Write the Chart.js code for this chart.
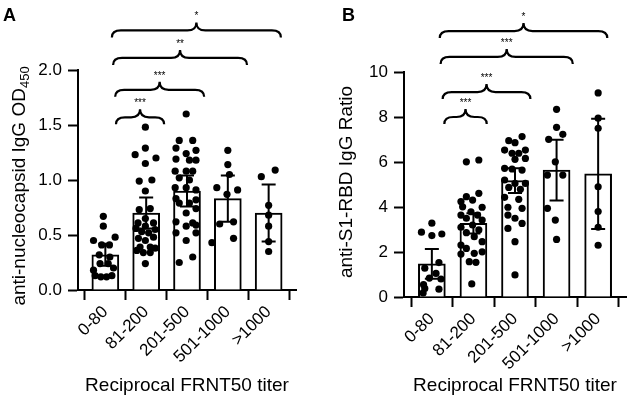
<!DOCTYPE html>
<html><head><meta charset="utf-8">
<script src="https://cdn.jsdelivr.net/npm/chart.js@4"></script>
<style>
html,body{margin:0;background:#fff;}
#wrap{position:relative;width:630px;height:407px;overflow:hidden;}
canvas{position:absolute;top:0;}
#cA{left:0} #cB{left:315px}
</style></head><body>
<div id="wrap"><canvas id="cA" width="315" height="407"></canvas><canvas id="cB" width="315" height="407"></canvas></div>
<script>
const FONT = '"Liberation Sans", Arial, Helvetica, sans-serif';
const groups = ['0-80','81-200','201-500','501-1000','>1000'];

// panel A - anti-nucleocapsid IgG OD450 (bar = mean, whisker = 95% CI)
const meanA = [0.32, 0.70, 0.90, 0.83, 0.70];
const ciA   = [0.10, 0.14, 0.14, 0.21, 0.26];
const ptsA = [
  [0.67,0.58,0.45,0.48,0.41,0.41,0.32,0.30,0.24,0.24,0.18,0.20,0.13,0.12,0.12,0.13],
  [1.48,1.29,1.23,1.20,1.15,0.99,1.00,0.90,0.73,0.74,0.65,0.61,0.61,0.58,0.56,0.55,0.53,0.52,0.47,0.48,0.45,0.39,0.39,0.36,0.38,0.34,0.34,0.24],
  [1.60,1.36,1.36,1.29,1.27,1.24,1.19,1.18,1.18,1.08,1.08,1.08,1.02,1.00,0.93,0.93,0.91,0.83,0.82,0.79,0.79,0.74,0.70,0.62,0.61,0.58,0.59,0.52,0.52,0.45,0.25,0.30],
  [1.27,1.14,1.05,0.93,0.91,0.87,0.60,0.62,0.43,0.47],
  [1.09,1.03,0.77,0.68,0.58,0.44,0.35]
];
// horizontal scatter of each dot inside its column
const jitA = [
  [-0.05,-0.05,-0.29,0.24,-0.09,0.10,-0.15,0.11,-0.13,0.07,-0.29,0.20,-0.25,-0.11,0.03,0.16],
  [-0.02,-0.02,-0.27,0.24,-0.02,-0.17,0.14,-0.02,-0.17,0.10,-0.02,-0.20,0.18,-0.02,-0.25,0.22,-0.11,0.06,-0.19,0.18,-0.02,-0.15,0.10,-0.23,0.22,-0.07,0.10,-0.02],
  [-0.02,-0.19,0.14,-0.27,0.22,-0.02,-0.27,0.06,0.22,-0.29,-0.02,0.14,-0.19,0.06,-0.29,-0.02,0.22,-0.27,0.22,-0.19,0.06,0.22,-0.02,-0.27,0.14,-0.02,0.22,-0.27,0.22,-0.02,-0.19,0.14],
  [0,0,0.04,-0.27,0.24,-0.02,-0.20,0.14,-0.39,0.14],
  [0.16,-0.18,0,0,0,0,0]
];
const brFromA  = [0.26, 0.24, 0.19, 0.16];
const brToA    = [1.44, 2.42, 3.47, 4.30];
const brLevelA = [1.57, 1.82, 2.11, 2.36];
const brStarsA = ['***','***','**','*'];

// panel B - anti-S1-RBD IgG ratio
const meanB = [1.47, 3.27, 5.17, 5.64, 5.47];
const ciB   = [0.66, 0.45, 0.55, 1.35, 2.45];
const ptsB = [
  [3.28,2.88,2.80,2.73,1.53,1.28,1.05,0.84,0.80,0.55,0.38,0.35,0.18],
  [6.01,6.09,4.61,4.46,4.24,4.31,4.01,3.99,3.79,3.64,3.64,3.50,3.42,3.20,3.10,2.98,2.86,2.68,2.46,2.31,2.16,2.01,1.94,1.91,1.57,1.54,0.58],
  [7.13,6.95,6.86,6.53,6.53,6.39,6.39,6.12,6.16,5.72,5.69,5.64,5.20,5.05,5.05,4.87,4.79,4.43,4.34,3.99,3.94,3.64,3.50,3.27,3.05,2.46,0.98],
  [8.34,7.54,7.23,7.01,6.01,5.42,5.42,3.94,3.42,2.56],
  [9.07,7.95,7.50,4.90,3.80,3.10,2.30]
];
const jitB = [
  [0,-0.25,0.24,0,0.17,-0.17,0.10,-0.06,0.22,-0.20,-0.17,0.17,-0.21],
  [-0.17,0.13,0.13,-0.17,-0.30,-0.02,-0.26,0.21,-0.06,0.10,-0.30,-0.17,0.21,-0.02,-0.30,0.13,-0.17,0.02,0.21,-0.30,-0.17,0.21,0.02,-0.30,-0.10,0.06,-0.04],
  [0.17,-0.15,0,-0.25,0.25,-0.07,0.09,0,0.25,-0.25,-0.07,0.17,-0.25,0,0.25,-0.15,0.13,-0.25,0.09,-0.17,0.17,-0.17,0,0.17,-0.17,0,0],
  [0,0,0.15,-0.19,-0.03,-0.22,0.15,-0.22,-0.03,0],
  [0,0,0,0,0,0,0]
];
const brFromB  = [0.30, 0.26, 0.21, 0.19];
const brToB    = [1.32, 2.37, 3.39, 4.22];
const brLevelB = [8.0, 9.11, 10.67, 11.82];
const brStarsB = ['***','***','***','*'];

// error bars, significance braces, y title with subscript, panel letter
const extras = {
  id: 'extras',
  afterDatasetsDraw(chart, args, o) {
    const {ctx, scales:{x, y}} = chart;
    ctx.save();
    ctx.strokeStyle = '#000'; ctx.lineWidth = 2;
    o.mean.forEach((m, i) => {
      const px = x.getPixelForValue(i);
      const top = y.getPixelForValue(m + o.ci[i]), bot = y.getPixelForValue(m - o.ci[i]);
      ctx.beginPath();
      ctx.moveTo(px, top); ctx.lineTo(px, bot);
      ctx.moveTo(px - 7, top); ctx.lineTo(px + 7, top);
      ctx.moveTo(px - 7, bot); ctx.lineTo(px + 7, bot);
      ctx.stroke();
    });
    ctx.restore();
  },
  afterDraw(chart, args, o) {
    const {ctx, scales:{x, y}} = chart;
    ctx.save();
    ctx.strokeStyle = '#000'; ctx.fillStyle = '#000'; ctx.lineWidth = 2.2;
    o.from.forEach((f, k) => {
      const x0 = x.getPixelForValue(f), x1 = x.getPixelForValue(o.to[k]);
      const yl = y.getPixelForValue(o.level[k]), xm = (x0 + x1) / 2, c = 9;
      ctx.beginPath();
      ctx.moveTo(x0, yl + 7);
      ctx.quadraticCurveTo(x0, yl, x0 + c, yl);
      ctx.lineTo(xm - c, yl);
      ctx.quadraticCurveTo(xm, yl, xm, yl - 8);
      ctx.quadraticCurveTo(xm, yl, xm + c, yl);
      ctx.lineTo(x1 - c, yl);
      ctx.quadraticCurveTo(x1, yl, x1, yl + 7);
      ctx.stroke();
      ctx.font = '10px ' + FONT; ctx.textAlign = 'center'; ctx.textBaseline = 'middle';
      ctx.fillText(o.stars[k], xm, yl - 14);
    });
    // y axis title
    ctx.save();
    ctx.translate(o.titleX, o.titleY);
    ctx.rotate(-Math.PI / 2);
    ctx.font = '19px ' + FONT;
    const w1 = ctx.measureText(o.title).width;
    ctx.font = '13px ' + FONT;
    const w2 = o.sub ? ctx.measureText(o.sub).width : 0;
    const sx = -(w1 + w2) / 2;
    ctx.textAlign = 'left'; ctx.textBaseline = 'alphabetic';
    ctx.font = '19px ' + FONT;
    ctx.fillText(o.title, sx, 7);
    if (o.sub) { ctx.font = '13px ' + FONT; ctx.fillText(o.sub, sx + w1, 11); }
    ctx.restore();
    ctx.font = 'bold 18px ' + FONT; ctx.textAlign = 'left'; ctx.textBaseline = 'alphabetic';
    ctx.fillText(o.letter, o.letterX, 21);
    ctx.restore();
  }
};

function makeChart(id, c) {
  const pts = [];
  c.pts.forEach((g, i) => g.forEach((v, j) => pts.push({x: i + c.jit[i][j], y: v})));
  const tickFont = {family: FONT, size: 17};
  return new Chart(document.getElementById(id), {
    type: 'bar',
    data: { datasets: [
      { type: 'scatter', data: pts, pointRadius: 3.6, pointBackgroundColor: '#000', pointBorderWidth: 0, order: 1 },
      { type: 'bar', data: c.mean.map((m, i) => ({x: i, y: m})), backgroundColor: '#fff',
        borderColor: '#000', borderWidth: 2, barThickness: 27, order: 2 }
    ]},
    options: {
      responsive: false, animation: false, devicePixelRatio: 1,
      layout: { padding: { top: c.top, right: c.right, left: 0, bottom: 0 } },
      plugins: {
        legend: {display: false}, tooltip: {enabled: false},
        extras: { mean: c.mean, ci: c.ci, from: c.from, to: c.to, level: c.level, stars: c.stars,
                  title: c.title, sub: c.sub, titleX: c.titleX, titleY: c.titleY, letter: c.letter, letterX: c.letterX }
      },
      scales: {
        x: {
          type: 'linear', min: -0.67, max: 4.67, offset: false,
          afterBuildTicks: s => { s.ticks = groups.map((g, i) => ({value: i})); },
          afterFit: s => { s.height = c.xh; },
          ticks: { callback: v => groups[v], minRotation: 45, maxRotation: 45, autoSkip: false,
                   color: '#000', font: tickFont, padding: 2 },
          grid: { drawOnChartArea: false, tickLength: 10, tickWidth: 2, color: '#000' },
          border: { color: '#000', width: 2 },
          title: { display: true, text: 'Reciprocal FRNT50 titer', color: '#000',
                   font: {family: FONT, size: 19}, padding: {top: 0, bottom: 10} }
        },
        y: {
          min: 0, max: c.ymax,
          afterFit: s => { s.width = c.yw; },
          ticks: { stepSize: c.step, callback: c.fmt, color: '#000', font: tickFont, padding: 6 },
          grid: { drawOnChartArea: false, tickLength: 10, tickWidth: 2, color: '#000' },
          border: { color: '#000', width: 2 }
        }
      }
    },
    plugins: [extras]
  });
}

makeChart('cA', {
  pts: ptsA, jit: jitA, mean: meanA, ci: ciA,
  from: brFromA, to: brToA, level: brLevelA, stars: brStarsA,
  ymax: 2, step: 0.5, fmt: v => v.toFixed(1),
  top: 70, right: 19, yw: 78, xh: 117,
  title: 'anti-nucleocapsid IgG OD', sub: '450', titleX: 18, titleY: 186,
  letter: 'A', letterX: 3
});
makeChart('cB', {
  pts: ptsB, jit: jitB, mean: meanB, ci: ciB,
  from: brFromB, to: brToB, level: brLevelB, stars: brStarsB,
  ymax: 10, step: 2, fmt: v => String(v),
  top: 72, right: 1, yw: 89, xh: 110,
  title: 'anti-S1-RBD IgG Ratio', sub: '', titleX: 30, titleY: 182,
  letter: 'B', letterX: 27
});
</script>
</body></html>
